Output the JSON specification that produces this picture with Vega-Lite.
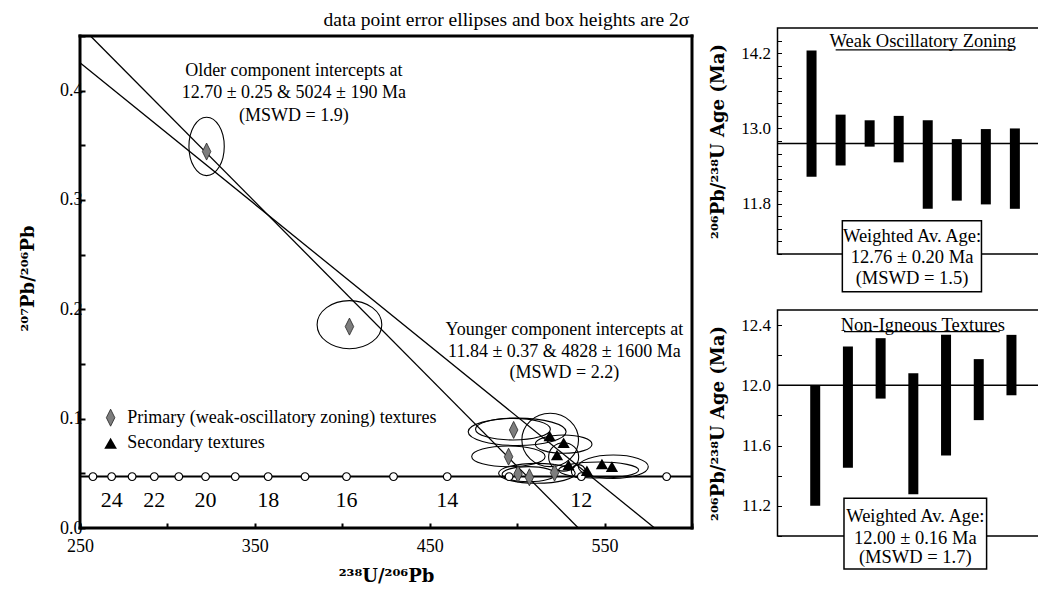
{
  "$schema": "https://vega.github.io/schema/vega-lite/v6.json",
  "padding": {"left": 19, "top": 10, "right": 0, "bottom": 0},
  "background": "white",
  "title": {"text": "data point error ellipses and box heights are 2σ", "anchor": "start", "dx": 304, "fontSize": 19.5, "fontWeight": "normal", "offset": -4, "color": "black", "font": "Liberation Serif"},
  "config": {
    "font": "Liberation Serif",
    "view": {"stroke": "black"},
    "axis": {"labelColor": "black", "titleColor": "black", "tickColor": "black", "grid": false, "domain": false, "labelFlush": false, "labelOverlap": false, "titleFont": "DejaVu Serif"},
    "text": {"color": "black"}
  },
  "spacing": 13.5,
  "hconcat": [
    {
      "width": 612,
      "height": 500,
      "view": {"stroke": null},
      "encoding": {
        "x": {"field": "x", "type": "quantitative",
          "scale": {"domain": [250, 600], "nice": false, "zero": false},
          "axis": {"values": [250, 300, 350, 400, 450, 500, 550, 600],
            "labelExpr": "(datum.value - 250) % 100 == 0 ? datum.label : ''",
            "title": "²³⁸U/²⁰⁶Pb", "titleFontSize": 18, "titleFontWeight": "bold", "titlePadding": 12,
            "labelFontSize": 18, "labelPadding": 14, "tickSize": -5, "tickWidth": 2}},
        "y": {"field": "y", "type": "quantitative",
          "scale": {"domain": [0, 0.4573], "nice": false, "zero": false},
          "axis": {"values": [0, 0.05, 0.1, 0.15, 0.2, 0.25, 0.3, 0.35, 0.4, 0.45],
            "labelExpr": "round(datum.value * 100) % 10 == 0 ? format(datum.value, '.1f') : ''",
            "title": "²⁰⁷Pb/²⁰⁶Pb", "titleFontSize": 18, "titleFontWeight": "bold", "titlePadding": 22,
            "labelFontSize": 18, "labelPadding": 3, "tickSize": -5, "tickWidth": 2}}
      },
      "layer": [
        {"data": {"name": "frame"}, "mark": {"type": "rule", "color": "black", "strokeWidth": 3, "strokeCap": "square"},
          "encoding": {"x2": {"field": "x2"}, "y2": {"field": "y2"}}},
        {"data": {"name": "discordia"}, "mark": {"type": "line", "color": "black", "strokeWidth": 1.3},
          "encoding": {"detail": {"field": "line"}}},
        {"data": {"name": "ellipses"}, "mark": {"type": "line", "interpolate": "cardinal-closed", "tension": -0.657, "color": "black", "strokeWidth": 1.1},
          "encoding": {"detail": {"field": "e"}, "order": {"field": "k", "type": "quantitative"}}},
        {"data": {"name": "concordia_line"}, "mark": {"type": "rule", "color": "black", "strokeWidth": 2},
          "encoding": {"x2": {"field": "x2"}}},
        {"data": {"name": "concordia"}, "mark": {"type": "point", "shape": "circle", "filled": true, "fill": "white", "stroke": "black", "strokeWidth": 1.2, "size": 60, "opacity": 1}},
        {"data": {"name": "concordia_labels"}, "mark": {"type": "text", "fontSize": 22, "align": "center", "baseline": "middle"},
          "encoding": {"text": {"field": "label"}}},
        {"data": {"name": "primary"}, "mark": {"type": "point", "shape": "M0,-1L0.5,0L0,1L-0.5,0Z", "filled": true, "fill": "#7d7d7d", "stroke": "#222222", "strokeWidth": 0.8, "size": 290, "opacity": 1}},
        {"data": {"name": "secondary"}, "mark": {"type": "point", "shape": "triangle-up", "filled": true, "color": "black", "size": 150, "opacity": 1}},
        {"data": {"name": "legend_primary"}, "mark": {"type": "point", "shape": "M0,-1L0.5,0L0,1L-0.5,0Z", "filled": true, "fill": "#7d7d7d", "stroke": "#222222", "strokeWidth": 0.8, "size": 290, "opacity": 1}},
        {"data": {"name": "legend_secondary"}, "mark": {"type": "point", "shape": "triangle-up", "filled": true, "color": "black", "size": 160, "opacity": 1}},
        {"data": {"name": "legend_text"}, "mark": {"type": "text", "fontSize": 18, "align": "left", "baseline": "middle"},
          "encoding": {"text": {"field": "label"}}},
        {"data": {"name": "notes"}, "mark": {"type": "text", "fontSize": 18, "align": "center", "baseline": "middle"},
          "encoding": {"text": {"field": "label"}}}
      ]
    },
    {
      "spacing": 15,
      "vconcat": [
        {
          "width": 263,
          "height": 226,
          "view": {"stroke": "black", "strokeWidth": 1.5},
          "encoding": {
            "y": {"field": "y", "type": "quantitative",
              "scale": {"domain": [11, 14.6], "nice": false, "zero": false},
              "axis": {"values": [11, 11.2, 11.4, 11.6, 11.8, 12, 12.2, 12.4, 12.6, 12.8, 13, 13.2, 13.4, 13.6, 13.8, 14, 14.2, 14.4],
                "labelExpr": "datum.value == 11.8 || datum.value == 13 || datum.value == 14.2 ? format(datum.value, '.1f') : ''",
                "title": "²⁰⁶Pb/²³⁸U Age (Ma)", "titleFontSize": 18, "titleFontWeight": "bold", "titlePadding": 13.5,
                "labelFontSize": 17, "labelPadding": 11, "tickSize": -4, "tickWidth": 1}}
          },
          "layer": [
            {"data": {"name": "weak_bars"}, "mark": {"type": "bar", "size": 10, "color": "black"},
              "encoding": {"x": {"field": "i", "type": "quantitative", "scale": {"domain": [0, 8.71], "nice": false, "zero": false}, "axis": null}, "y2": {"field": "y2"}}},
            {"data": {"name": "weak_mean"}, "mark": {"type": "rule", "color": "black", "strokeWidth": 1.5}},
            {"data": {"name": "weak_underline"}, "mark": {"type": "rule", "color": "black", "strokeWidth": 1.2},
              "encoding": {"x": {"field": "i", "type": "quantitative", "scale": {"domain": [0, 8.71], "nice": false, "zero": false}, "axis": null}, "x2": {"field": "i2"}}},
            {"data": {"name": "weak_box"}, "mark": {"type": "rect", "fill": "white", "stroke": "black", "strokeWidth": 1.5},
              "encoding": {"x": {"field": "i", "type": "quantitative", "scale": {"domain": [0, 8.71], "nice": false, "zero": false}, "axis": null}, "x2": {"field": "i2"}, "y2": {"field": "y2"}}},
            {"data": {"name": "weak_text"}, "mark": {"type": "text", "fontSize": 18.5, "align": "center", "baseline": "middle"},
              "encoding": {"x": {"field": "i", "type": "quantitative", "scale": {"domain": [0, 8.71], "nice": false, "zero": false}, "axis": null}, "text": {"field": "label"}}}
          ]
        },
        {
          "width": 263,
          "height": 226,
          "view": {"stroke": "black", "strokeWidth": 1.5},
          "encoding": {
            "y": {"field": "y", "type": "quantitative",
              "scale": {"domain": [11, 12.5], "nice": false, "zero": false},
              "axis": {"values": [11, 11.2, 11.4, 11.6, 11.8, 12, 12.2, 12.4],
                "labelExpr": "datum.value == 11.2 || datum.value == 11.6 || datum.value == 12 || datum.value == 12.4 ? format(datum.value, '.1f') : ''",
                "title": "²⁰⁶Pb/²³⁸U Age (Ma)", "titleFontSize": 18, "titleFontWeight": "bold", "titlePadding": 13.5,
                "labelFontSize": 17, "labelPadding": 11, "tickSize": -4, "tickWidth": 1}}
          },
          "layer": [
            {"data": {"name": "non_bars"}, "mark": {"type": "bar", "size": 10, "color": "black"},
              "encoding": {"x": {"field": "i", "type": "quantitative", "scale": {"domain": [0, 7.735], "nice": false, "zero": false}, "axis": null}, "y2": {"field": "y2"}}},
            {"data": {"name": "non_mean"}, "mark": {"type": "rule", "color": "black", "strokeWidth": 1.5}},
            {"data": {"name": "non_underline"}, "mark": {"type": "rule", "color": "black", "strokeWidth": 1.2},
              "encoding": {"x": {"field": "i", "type": "quantitative", "scale": {"domain": [0, 7.735], "nice": false, "zero": false}, "axis": null}, "x2": {"field": "i2"}}},
            {"data": {"name": "non_box"}, "mark": {"type": "rect", "fill": "white", "stroke": "black", "strokeWidth": 1.5},
              "encoding": {"x": {"field": "i", "type": "quantitative", "scale": {"domain": [0, 7.735], "nice": false, "zero": false}, "axis": null}, "x2": {"field": "i2"}, "y2": {"field": "y2"}}},
            {"data": {"name": "non_text"}, "mark": {"type": "text", "fontSize": 18.5, "align": "center", "baseline": "middle"},
              "encoding": {"x": {"field": "i", "type": "quantitative", "scale": {"domain": [0, 7.735], "nice": false, "zero": false}, "axis": null}, "text": {"field": "label"}}}
          ]
        }
      ]
    }
  ],
  "datasets": {
    "frame": [
      {"x": 250, "x2": 600, "y": 0.45, "y2": 0.45},
      {"x": 250, "x2": 600, "y": 0, "y2": 0},
      {"x": 250, "x2": 250, "y": 0, "y2": 0.45},
      {"x": 600, "x2": 600, "y": 0, "y2": 0.45}
    ],
    "discordia": [
      {"line": "older", "x": 256, "y": 0.45},
      {"line": "older", "x": 535, "y": 0},
      {"line": "younger", "x": 250, "y": 0.4256},
      {"line": "younger", "x": 578.6, "y": 0}
    ],
    "ellipses": [
      {"e": 1, "k": 0, "x": 332.5, "y": 0.349}, {"e": 1, "k": 1, "x": 322.4, "y": 0.3757}, {"e": 1, "k": 2, "x": 312.3, "y": 0.349}, {"e": 1, "k": 3, "x": 322.4, "y": 0.3223},
      {"e": 2, "k": 0, "x": 422.6, "y": 0.186}, {"e": 2, "k": 1, "x": 404.1, "y": 0.208}, {"e": 2, "k": 2, "x": 385.6, "y": 0.186}, {"e": 2, "k": 3, "x": 404.1, "y": 0.164},
      {"e": 3, "k": 0, "x": 528, "y": 0.088}, {"e": 3, "k": 1, "x": 500, "y": 0.1005}, {"e": 3, "k": 2, "x": 472, "y": 0.088}, {"e": 3, "k": 3, "x": 500, "y": 0.0755},
      {"e": 4, "k": 0, "x": 519, "y": 0.0904}, {"e": 4, "k": 1, "x": 497.6, "y": 0.1003}, {"e": 4, "k": 2, "x": 476.2, "y": 0.0904}, {"e": 4, "k": 3, "x": 497.6, "y": 0.0805},
      {"e": 5, "k": 0, "x": 535.1, "y": 0.0805}, {"e": 5, "k": 1, "x": 518.9, "y": 0.1049}, {"e": 5, "k": 2, "x": 502.7, "y": 0.0805}, {"e": 5, "k": 3, "x": 518.9, "y": 0.0561},
      {"e": 6, "k": 0, "x": 542.8, "y": 0.0767}, {"e": 6, "k": 1, "x": 526.6, "y": 0.0851}, {"e": 6, "k": 2, "x": 510.4, "y": 0.0767}, {"e": 6, "k": 3, "x": 526.6, "y": 0.0683},
      {"e": 7, "k": 0, "x": 516, "y": 0.0655}, {"e": 7, "k": 1, "x": 495, "y": 0.075}, {"e": 7, "k": 2, "x": 474, "y": 0.0655}, {"e": 7, "k": 3, "x": 495, "y": 0.056},
      {"e": 8, "k": 0, "x": 533.2, "y": 0.05}, {"e": 8, "k": 1, "x": 511.3, "y": 0.0591}, {"e": 8, "k": 2, "x": 489.4, "y": 0.05}, {"e": 8, "k": 3, "x": 511.3, "y": 0.0409},
      {"e": 9, "k": 0, "x": 521.8, "y": 0.0492}, {"e": 9, "k": 1, "x": 506.6, "y": 0.0561}, {"e": 9, "k": 2, "x": 491.4, "y": 0.0492}, {"e": 9, "k": 3, "x": 506.6, "y": 0.0423},
      {"e": 10, "k": 0, "x": 575, "y": 0.056}, {"e": 10, "k": 1, "x": 555, "y": 0.0667}, {"e": 10, "k": 2, "x": 535, "y": 0.056}, {"e": 10, "k": 3, "x": 555, "y": 0.0453},
      {"e": 11, "k": 0, "x": 535.2, "y": 0.065}, {"e": 11, "k": 1, "x": 526.6, "y": 0.078}, {"e": 11, "k": 2, "x": 518, "y": 0.065}, {"e": 11, "k": 3, "x": 526.6, "y": 0.052},
      {"e": 12, "k": 0, "x": 569.5, "y": 0.053}, {"e": 12, "k": 1, "x": 546.6, "y": 0.0603}, {"e": 12, "k": 2, "x": 523.7, "y": 0.053}, {"e": 12, "k": 3, "x": 546.6, "y": 0.0457},
      {"e": 13, "k": 0, "x": 539, "y": 0.052}, {"e": 13, "k": 1, "x": 535, "y": 0.058}, {"e": 13, "k": 2, "x": 531, "y": 0.052}, {"e": 13, "k": 3, "x": 535, "y": 0.046}
    ],
    "concordia_line": [{"x": 250, "x2": 600, "y": 0.047}],
    "concordia": [
      {"age": 11, "x": 585.5, "y": 0.047}, {"age": 12, "x": 536.7, "y": 0.047}, {"age": 13, "x": 495.4, "y": 0.047},
      {"age": 14, "x": 460.0, "y": 0.047}, {"age": 15, "x": 429.3, "y": 0.047}, {"age": 16, "x": 402.4, "y": 0.047},
      {"age": 17, "x": 378.7, "y": 0.047}, {"age": 18, "x": 357.6, "y": 0.047}, {"age": 19, "x": 338.8, "y": 0.047},
      {"age": 20, "x": 321.8, "y": 0.047}, {"age": 21, "x": 306.5, "y": 0.047}, {"age": 22, "x": 292.5, "y": 0.047},
      {"age": 23, "x": 279.8, "y": 0.047}, {"age": 24, "x": 268.1, "y": 0.047}, {"age": 25, "x": 257.4, "y": 0.047}
    ],
    "concordia_labels": [
      {"label": "24", "x": 268.1, "y": 0.026}, {"label": "22", "x": 292.5, "y": 0.026}, {"label": "20", "x": 321.8, "y": 0.026},
      {"label": "18", "x": 357.6, "y": 0.026}, {"label": "16", "x": 402.4, "y": 0.026}, {"label": "14", "x": 460.0, "y": 0.026},
      {"label": "12", "x": 536.7, "y": 0.026}
    ],
    "primary": [
      {"x": 322.4, "y": 0.3443}, {"x": 404.1, "y": 0.1842}, {"x": 498.0, "y": 0.0897}, {"x": 495.1, "y": 0.0652},
      {"x": 500.5, "y": 0.0494}, {"x": 507.0, "y": 0.0464}, {"x": 521.4, "y": 0.0506}
    ],
    "secondary": [
      {"x": 518.6, "y": 0.0842}, {"x": 526.6, "y": 0.078}, {"x": 522.8, "y": 0.0668}, {"x": 529.4, "y": 0.0576},
      {"x": 539.9, "y": 0.0524}, {"x": 548.5, "y": 0.0586}, {"x": 554.2, "y": 0.0561}
    ],
    "legend_primary": [{"x": 267.5, "y": 0.1009}],
    "legend_secondary": [{"x": 267.5, "y": 0.0775}],
    "legend_text": [
      {"x": 277, "y": 0.1009, "label": "Primary (weak-oscillatory zoning) textures"},
      {"x": 277, "y": 0.0775, "label": "Secondary textures"}
    ],
    "notes": [
      {"x": 372.3, "y": 0.4176, "label": "Older component intercepts at"},
      {"x": 372.3, "y": 0.3978, "label": "12.70 ± 0.25 & 5024 ± 190 Ma"},
      {"x": 372.3, "y": 0.3764, "label": "(MSWD = 1.9)"},
      {"x": 527, "y": 0.1812, "label": "Younger component intercepts at"},
      {"x": 527, "y": 0.1613, "label": "11.84 ± 0.37 & 4828 ± 1600 Ma"},
      {"x": 527, "y": 0.1421, "label": "(MSWD = 2.2)"}
    ],
    "weak_bars": [
      {"i": 1, "y": 12.23, "y2": 14.24}, {"i": 2, "y": 12.41, "y2": 13.22}, {"i": 3, "y": 12.71, "y2": 13.13},
      {"i": 4, "y": 12.46, "y2": 13.2}, {"i": 5, "y": 11.72, "y2": 13.13}, {"i": 6, "y": 11.85, "y2": 12.83},
      {"i": 7, "y": 11.79, "y2": 12.99}, {"i": 8, "y": 11.72, "y2": 13.0}
    ],
    "weak_mean": [{"y": 12.76}],
    "weak_underline": [{"i": 1.83, "i2": 7.91, "y": 14.25}],
    "weak_box": [{"i": 2.06, "i2": 6.85, "y": 10.4, "y2": 11.53}],
    "weak_text": [
      {"i": 4.83, "y": 14.387, "label": "Weak Oscillatory Zoning"},
      {"i": 4.46, "y": 11.29, "label": "Weighted Av. Age:"},
      {"i": 4.46, "y": 10.95, "label": "12.76 ± 0.20 Ma"},
      {"i": 4.46, "y": 10.62, "label": "(MSWD = 1.5)"}
    ],
    "non_bars": [
      {"i": 1, "y": 11.2, "y2": 12.0}, {"i": 2, "y": 11.453, "y2": 12.258}, {"i": 3, "y": 11.912, "y2": 12.313},
      {"i": 4, "y": 11.277, "y2": 12.081}, {"i": 5, "y": 11.535, "y2": 12.335}, {"i": 6, "y": 11.769, "y2": 12.174},
      {"i": 7, "y": 11.934, "y2": 12.335}
    ],
    "non_mean": [{"y": 12.0}],
    "non_underline": [{"i": 1.88, "i2": 6.64, "y": 12.357}],
    "non_box": [{"i": 1.88, "i2": 6.24, "y": 10.781, "y2": 11.25}],
    "non_text": [
      {"i": 4.29, "y": 12.4, "label": "Non-Igneous Textures"},
      {"i": 4.06, "y": 11.134, "label": "Weighted Av. Age:"},
      {"i": 4.06, "y": 10.99, "label": "12.00 ± 0.16 Ma"},
      {"i": 4.06, "y": 10.858, "label": "(MSWD = 1.7)"}
    ]
  }
}
